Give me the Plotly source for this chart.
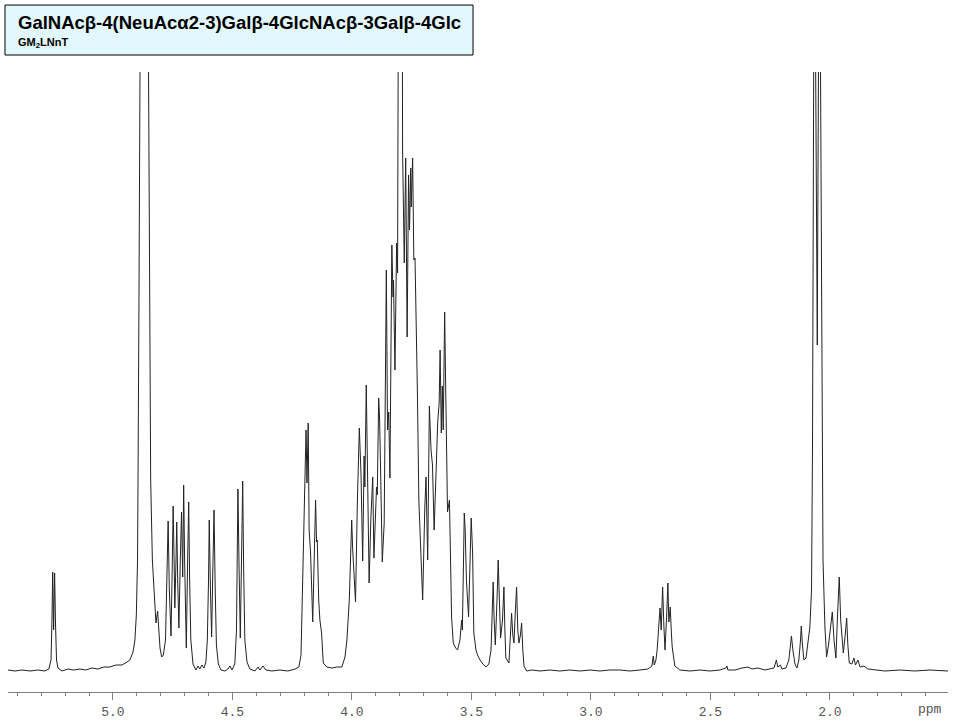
import plotly.graph_objects as go

# Chemical shift (ppm) and intensity (arbitrary units, baseline = 0)
ppm = [5.439, 5.410, 5.381, 5.347, 5.314, 5.285, 5.268, 5.259, 5.255, 5.252, 5.248, 5.244, 5.240, 5.236, 5.230,
       5.213, 5.188, 5.163, 5.138, 5.113, 5.088, 5.063, 5.038, 5.013, 4.987, 4.962, 4.941, 4.929, 4.916, 4.908,
       4.902, 4.897, 4.895, 4.891, 4.870, 4.847, 4.842, 4.835, 4.828, 4.820, 4.813, 4.810, 4.803, 4.796, 4.789,
       4.780, 4.773, 4.769, 4.764, 4.757, 4.752, 4.748, 4.744, 4.741, 4.736, 4.733, 4.729, 4.724, 4.718, 4.713,
       4.708, 4.704, 4.700, 4.693, 4.688, 4.683, 4.679, 4.674, 4.665, 4.653, 4.644, 4.636, 4.628, 4.619, 4.611,
       4.605, 4.600, 4.597, 4.592, 4.587, 4.582, 4.577, 4.572, 4.567, 4.559, 4.548, 4.531, 4.519, 4.510, 4.502,
       4.490, 4.483, 4.480, 4.477, 4.472, 4.467, 4.462, 4.457, 4.453, 4.448, 4.439, 4.427, 4.406, 4.393, 4.385,
       4.372, 4.360, 4.335, 4.301, 4.268, 4.238, 4.222, 4.213, 4.206, 4.200, 4.192, 4.188, 4.183, 4.179, 4.176,
       4.173, 4.164, 4.158, 4.152, 4.148, 4.145, 4.139, 4.134, 4.127, 4.120, 4.105, 4.084, 4.063, 4.042, 4.029,
       4.021, 4.011, 4.001, 3.997, 3.985, 3.977, 3.969, 3.962, 3.955, 3.949, 3.946, 3.940, 3.934, 3.928, 3.921,
       3.913, 3.908, 3.902, 3.897, 3.894, 3.888, 3.884, 3.873, 3.865, 3.856, 3.851, 3.846, 3.841, 3.833, 3.828,
       3.826, 3.820, 3.813, 3.809, 3.803, 3.796, 3.788, 3.781, 3.775, 3.769, 3.763, 3.759, 3.754, 3.752, 3.746,
       3.741, 3.736, 3.729, 3.726, 3.720, 3.704, 3.695, 3.690, 3.683, 3.676, 3.669, 3.663, 3.656, 3.641, 3.635,
       3.631, 3.626, 3.622, 3.618, 3.612, 3.608, 3.603, 3.600, 3.592, 3.588, 3.583, 3.576, 3.566, 3.558, 3.548,
       3.541, 3.538, 3.533, 3.530, 3.526, 3.521, 3.512, 3.505, 3.501, 3.495, 3.490, 3.481, 3.473, 3.464, 3.452,
       3.439, 3.427, 3.418, 3.412, 3.409, 3.405, 3.400, 3.393, 3.388, 3.383, 3.378, 3.370, 3.364, 3.360, 3.356,
       3.343, 3.337, 3.332, 3.327, 3.322, 3.316, 3.311, 3.306, 3.301, 3.295, 3.290, 3.285, 3.280, 3.269, 3.247,
       3.213, 3.172, 3.130, 3.088, 3.046, 3.004, 2.962, 2.921, 2.879, 2.837, 2.795, 2.762, 2.745, 2.739, 2.735,
       2.728, 2.723, 2.716, 2.711, 2.706, 2.700, 2.695, 2.690, 2.683, 2.678, 2.674, 2.668, 2.664, 2.660, 2.649,
       2.628, 2.586, 2.544, 2.502, 2.460, 2.435, 2.431, 2.427, 2.397, 2.368, 2.343, 2.326, 2.301, 2.272, 2.251,
       2.234, 2.224, 2.218, 2.207, 2.201, 2.184, 2.172, 2.165, 2.161, 2.155, 2.146, 2.138, 2.130, 2.123, 2.120,
       2.115, 2.109, 2.100, 2.092, 2.084, 2.077, 2.073, 2.065, 2.053, 2.044, 2.033, 2.029, 2.021, 2.014, 2.006,
       1.998, 1.990, 1.983, 1.975, 1.969, 1.961, 1.955, 1.944, 1.936, 1.930, 1.925, 1.919, 1.908, 1.900, 1.893,
       1.883, 1.874, 1.858, 1.841, 1.812, 1.770, 1.707, 1.644, 1.582, 1.506]

intensity = [0, -1, 0, -1, 0, -1, 1, 10, 50, 98, 40, 97, 45, 10, 2,
             -1, 1, 0, 1, 0, 2, 1, 3, 3, 5, 5, 8, 10, 18, 30,
             55, 110, 190, 370, 1470, 370, 190, 110, 73, 47, 59, 45, 22, 13, 15,
             30, 90, 149, 80, 34, 100, 164, 110, 62, 110, 148, 90, 42, 110, 158,
             93, 185, 110, 22, 100, 168, 90, 30, 6, 0, 4, 1, 5, 2, 8,
             30, 90, 150, 80, 33, 100, 160, 80, 25, 6, 0, -1, 1, 4, 0,
             6, 40, 110, 181, 100, 32, 110, 189, 100, 30, 8, 1, -1, 3, 0,
             4, 0, -1, 0, -1, 1, 3, 15, 97, 137, 240, 187, 247, 140, 127,
             117, 48, 120, 170, 128, 130, 70, 50, 37, 7, 3, 2, 3, 3, 13,
             30, 70, 150, 122, 68, 170, 242, 196, 109, 214, 183, 285, 180, 87, 150,
             193, 112, 160, 183, 175, 272, 250, 108, 147, 400, 240, 258, 192, 425, 373,
             390, 300, 427, 397, 550, 1500, 520, 407, 512, 333, 495, 440, 502, 463, 512,
             410, 412, 277, 277, 170, 70, 163, 193, 110, 264, 220, 205, 140, 248, 267,
             320, 237, 284, 240, 358, 287, 170, 158, 170, 125, 53, 27, 22, 20, 30,
             50, 40, 110, 157, 140, 90, 53, 110, 152, 117, 37, 20, 14, 10, 6,
             3, 6, 20, 60, 88, 50, 25, 70, 110, 70, 32, 50, 83, 40, 12,
             7, 30, 57, 35, 27, 60, 83, 40, 27, 35, 47, 20, 4, -1, 0,
             -1, 0, -1, 0, -1, 0, -1, 0, 0, -1, 0, 1, 4, 14, 5,
             10, 20, 40, 62, 40, 83, 45, 20, 55, 87, 48, 63, 40, 23, 4,
             0, -1, 0, -1, 0, 2, 4, 0, 0, 2, 3, 1, 2, 0, 1,
             2, 10, 3, 5, 1, 2, 10, 25, 34, 20, 6, 2, 10, 30, 44,
             25, 10, 12, 25, 43, 80, 220, 820, 325, 820, 220, 110, 43, 13, 25,
             40, 58, 30, 12, 50, 93, 50, 17, 35, 52, 25, 7, 6, 12, 5,
             10, 3, 4, 1, 0, -1, 0, -1, 0, -1]

title_text = "GalNAcβ-4(NeuAcα2-3)Galβ-4GlcNAcβ-3Galβ-4Glc"
subtitle_text = "GM<sub>2</sub>LNnT"
x_range = [5.439, 1.506]
y_range = [-22, 598]

fig = go.Figure()
fig.add_trace(go.Scatter(x=ppm, y=intensity, mode="lines",
                         line=dict(color="#222222", width=1), hoverinfo="skip", showlegend=False))

fig.update_layout(
    width=960, height=720,
    margin=dict(l=8, r=12, t=72, b=28),
    paper_bgcolor="white", plot_bgcolor="white",
    xaxis=dict(range=x_range, automargin=False, showgrid=False, zeroline=False, showline=True,
               linecolor="#808080", linewidth=1, ticks="outside", ticklen=7, tickwidth=1,
               tickcolor="#808080", tick0=0, dtick=0.5, tickformat=".1f",
               tickfont=dict(family="Liberation Mono, Courier New, monospace", size=13, color="#555555"),
               minor=dict(ticks="outside", ticklen=3, dtick=0.1, tick0=0, tickcolor="#808080", showgrid=False)),
    yaxis=dict(range=y_range, visible=False, automargin=False, showgrid=False, zeroline=False),
    shapes=[dict(type="rect", xref="paper", yref="paper",
                 x0=-0.0032, x1=0.4947, y0=1.0274, y1=1.108,
                 line=dict(color="black", width=1), fillcolor="#E2F8FC", layer="above")],
    annotations=[
        dict(text="<b>" + title_text + "</b>", xref="paper", yref="paper", x=0.0085, y=1.0795,
             xanchor="left", yanchor="middle", showarrow=False,
             font=dict(family="Liberation Sans, Arial, sans-serif", size=18.5, color="black")),
        dict(text="<b>" + subtitle_text + "</b>", xref="paper", yref="paper", x=0.0085, y=1.0468,
             xanchor="left", yanchor="middle", showarrow=False,
             font=dict(family="Liberation Sans, Arial, sans-serif", size=11, color="black")),
        dict(text="ppm", xref="paper", yref="paper", x=0.981, y=-0.029,
             xanchor="center", yanchor="middle", showarrow=False,
             font=dict(family="Liberation Mono, Courier New, monospace", size=13, color="#555555")),
    ],
)

fig.write_html("out.html", config={"displayModeBar": False},
               post_script="document.body.style.margin='0';document.body.style.overflow='hidden';")
